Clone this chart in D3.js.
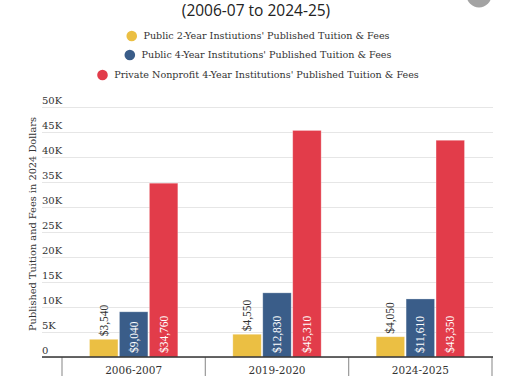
<!DOCTYPE html>
<html lang="en">
  <head>
    <meta charset="utf-8">
    <title>Published Tuition & Fees</title>
    <style>
      body { margin: 0; background: #fff; }
      svg { display: block; }
    </style>
  </head>
  <body>
    <svg width="514" height="386"></svg>
    <script src="https://cdn.jsdelivr.net/npm/d3@7"></script>
    <script>
      const years = ['2006-2007', '2019-2020', '2024-2025'];
      const seriesNames = [
        "Public 2-Year Instiutions' Published Tuition & Fees",
        "Public 4-Year Institutions' Published Tuition & Fees",
        "Private Nonprofit 4-Year Institutions' Published Tuition & Fees"
      ];
      const public2 = [3540, 4550, 4050];
      const public4 = [9040, 12830, 11610];
      const private4 = [34760, 45310, 43350];
      const yTicks = [0, 5000, 10000, 15000, 20000, 25000, 30000, 35000, 40000, 45000, 50000];

      const colours = ['#ebbf43', '#3a5d89', '#e23c4a'];
      const serif = "'DejaVu Serif', serif";
      const narrowSerif = "'Liberation Serif', serif";

      const svg = d3.select('svg');

      // rows for grouped bars
      const rows = years.map(function(y, i) {
        return { year: y, values: [public2[i], public4[i], private4[i]] };
      });

      const x0 = d3.scaleBand().domain(years).range([62, 492]);
      const groupPad = 27.5;
      const x1 = d3.scaleBand().domain(d3.range(3))
        .range([groupPad, x0.bandwidth() - groupPad]).paddingInner(0.05);
      const y = d3.scaleLinear().domain([0, 50000]).range([357, 107]);

      // title (second line)
      svg.append('text')
        .attr('x', 256).attr('y', 16)
        .attr('text-anchor', 'middle')
        .attr('font-family', "'Open Sans', sans-serif")
        .attr('font-size', 15.5)
        .attr('fill', '#222')
        .text('(2006-07 to 2024-25)');

      // grey button in the corner
      svg.append('circle')
        .attr('cx', 479).attr('cy', -5).attr('r', 12.5)
        .attr('fill', '#a3a3a3');

      // legend
      const legendY = [36, 55, 75];
      const legend = svg.append('g');
      seriesNames.forEach(function(name, i) {
        const g = legend.append('g');
        const t = g.append('text')
          .attr('y', legendY[i]).attr('dy', '0.35em')
          .attr('font-family', serif)
          .attr('font-size', 9.6)
          .attr('fill', '#333')
          .text(name);
        const w = t.node().getComputedTextLength();
        const total = w + 17;
        const left = 258 - total / 2;
        g.append('circle')
          .attr('cx', left + 5.3).attr('cy', legendY[i]).attr('r', 5.3)
          .attr('fill', colours[i]);
        t.attr('x', left + 17);
      });

      // y grid + labels
      const yAxis = d3.axisLeft(y).tickValues(yTicks)
        .tickSize(-451)
        .tickFormat(function(d) { return d === 0 ? '0' : (d / 1000) + 'K'; });
      const gy = svg.append('g').attr('transform', 'translate(42,0)').call(yAxis);
      gy.select('.domain').remove();
      gy.selectAll('.tick line').attr('stroke', '#e6e6e6').attr('stroke-width', 1.2);
      gy.selectAll('.tick text')
        .attr('x', 0).attr('dy', -4)
        .attr('text-anchor', 'start')
        .attr('font-family', serif)
        .attr('font-size', 10)
        .attr('fill', '#333');

      // y axis title
      svg.append('text')
        .attr('transform', 'translate(33,224) rotate(-90)')
        .attr('text-anchor', 'middle')
        .attr('dy', '0.35em')
        .attr('font-family', serif)
        .attr('font-size', 9.8)
        .attr('fill', '#333')
        .text('Published Tuition and Fees in 2024 Dollars');

      // bars
      const groups = svg.selectAll('g.year')
        .data(rows).enter()
        .append('g').attr('class', 'year')
        .attr('transform', function(d) { return 'translate(' + x0(d.year) + ',0)'; });

      groups.selectAll('rect')
        .data(function(d) { return d.values; }).enter()
        .append('rect')
        .attr('x', function(d, i) { return x1(i); })
        .attr('y', function(d) { return y(d); })
        .attr('width', x1.bandwidth())
        .attr('height', function(d) { return y(0) - y(d); })
        .attr('fill', function(d, i) { return colours[i]; })
        .attr('stroke', 'rgba(255,255,255,0.35)')
        .attr('stroke-width', 0.8);

      // value labels
      const fmt = d3.format('$,');
      groups.selectAll('text.val')
        .data(function(d) { return d.values; }).enter()
        .append('text').attr('class', 'val')
        .attr('transform', function(d, i) {
          const cx = x1(i) + x1.bandwidth() / 2;
          const ty = i === 0 ? y(d) - 3 : y(0) - 4;
          return 'translate(' + cx + ',' + ty + ') rotate(-90)';
        })
        .attr('dy', '0.35em')
        .attr('text-anchor', 'start')
        .attr('font-family', narrowSerif)
        .attr('font-size', 11.5)
        .attr('fill', function(d, i) { return i === 0 ? '#333' : '#fff'; })
        .text(function(d) { return fmt(d); });

      // x axis
      const xAxis = d3.axisBottom(x0).tickSize(0).tickPadding(10);
      const gx = svg.append('g').attr('transform', 'translate(0,357)').call(xAxis);
      gx.select('.domain').remove();
      gx.selectAll('.tick text')
        .attr('font-family', serif)
        .attr('font-size', 10.5)
        .attr('fill', '#333');

      // separators between categories
      const edges = years.map(function(c) { return x0(c); }).concat([x0.range()[1]]);
      svg.selectAll('line.sep')
        .data(edges).enter()
        .append('line').attr('class', 'sep')
        .attr('x1', function(d) { return d; }).attr('x2', function(d) { return d; })
        .attr('y1', 357).attr('y2', 376)
        .attr('stroke', '#999').attr('stroke-width', 1.2);

      svg.append('line')
        .attr('x1', 42).attr('x2', 493)
        .attr('y1', y(0)).attr('y2', y(0))
        .attr('stroke', '#333').attr('stroke-width', 1.6);
    </script>
  </body>
</html>
